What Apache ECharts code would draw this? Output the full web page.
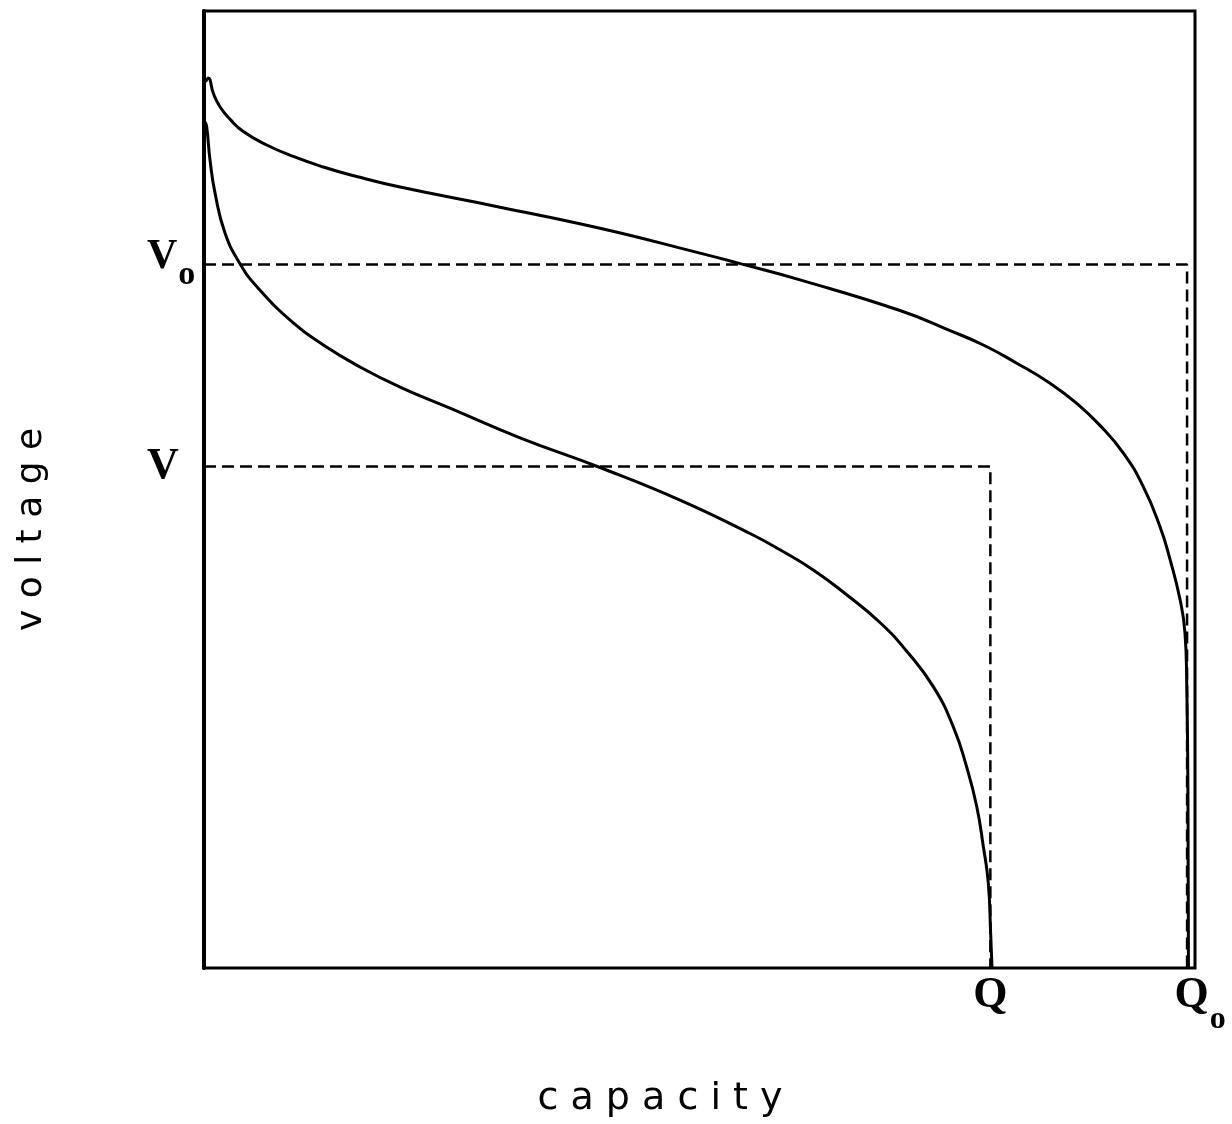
<!DOCTYPE html>
<html>
<head>
<meta charset="utf-8">
<title>voltage vs capacity</title>
<script src="https://cdn.jsdelivr.net/npm/echarts@6/dist/echarts.min.js"></script>
<style>
  html, body { margin: 0; padding: 0; background: #fff; }
  #chart { width: 1232px; height: 1124px; }
</style>
</head>
<body>
<div id="chart"></div>
<script>
// values, in 0..100 units of the frame
var highRate = [ // upper curve, ends at Qo
  [0.15, 92.6], [0.43, 93.0], [0.94, 91.4], [1.61, 90.0], [2.62, 88.7], [3.97, 87.4],
  [6.33, 86.0], [9.01, 84.8], [12.04, 83.7], [15.41, 82.7], [19.78, 81.6], [29.87, 79.5],
  [39.96, 77.3], [50.05, 74.7], [54.1, 73.6], [60.14, 71.9], [70.23, 68.7], [75.28, 66.6],
  [78.64, 65.1], [82.01, 63.2], [85.37, 61.1], [88.06, 59.0], [90.41, 56.7], [92.77, 53.8],
  [94.78, 50.3], [96.47, 46.1], [97.48, 42.7], [98.49, 38.5], [98.99, 35.0], [99.16, 30.1],
  [99.29, 17.6], [99.34, 0]
];
var lowRate = [ // lower curve, ends at Q
  [0.1, 88.4], [0.27, 87.9], [0.61, 84.4], [1.11, 81.0], [2.12, 76.8], [3.63, 73.6],
  [5.32, 71.2], [9.01, 67.4], [12.04, 65.1], [15.74, 62.8], [19.78, 60.7], [24.82, 58.5],
  [31.89, 55.4], [39.96, 52.3], [48.03, 48.9], [55.1, 45.4], [58.12, 43.7], [61.48, 41.6],
  [64.85, 39.0], [68.21, 36.1], [70.91, 33.1], [73.59, 29.4], [75.61, 25.2], [76.96, 21.0],
  [77.97, 16.9], [78.64, 12.7], [79.14, 8.9], [79.38, 3.6], [79.52, 0]
];
var voltTicks = [52.4, 73.5];      // V, Vo
var voltNames = ['{b|V}', '{bs|V}{sv|o}'];
var capTicks = [79.35, 99.2];      // Q, Qo
var capNames = ['{b|Q}', '{bq|Q}{sq|o}'];

var serifBold = { fontFamily: 'Liberation Serif', fontWeight: 'bold', color: '#000' };
var labelRich = {
  b: Object.assign({ fontSize: 44 }, serifBold),
  bs: Object.assign({ fontSize: 42, padding: [0, 0, 14, 0] }, serifBold),
  sv: Object.assign({ fontSize: 34, padding: [22, 0, 0, 1] }, serifBold),
  bq: Object.assign({ fontSize: 44, padding: [0, 0, 26, 26] }, serifBold),
  sq: Object.assign({ fontSize: 32, padding: [22, 0, 0, 1] }, serifBold)
};

var chart = echarts.init(document.getElementById('chart'));
var option = {
  animation: false,
  grid: {
    left: 204, top: 11, width: 991, height: 957,
    show: true, borderColor: '#000', borderWidth: 3, backgroundColor: 'transparent'
  },
  xAxis: {
    type: 'value', min: 0, max: 100,
    name: 'c a p a c i t y',
    nameLocation: 'middle', nameGap: 112,
    nameTextStyle: { fontFamily: 'DejaVu Sans', fontSize: 38, color: '#000', padding: [0, 79, 0, 0] },
    axisLine: { show: false },
    splitLine: { show: false },
    axisTick: { show: false },
    axisLabel: {
      customValues: capTicks,
      margin: 6,
      formatter: function (v) { return capNames[capTicks.indexOf(v)]; },
      rich: labelRich
    }
  },
  yAxis: {
    type: 'value', min: 0, max: 100,
    name: 'v o l t a g e',
    nameLocation: 'middle', nameGap: 154, nameRotate: 90,
    nameTextStyle: { fontFamily: 'DejaVu Sans', fontSize: 36, color: '#000', padding: [0, 80, 0, 0] },
    axisLine: { show: true, lineStyle: { color: '#000', width: 4 } },
    splitLine: { show: false },
    axisTick: { show: false },
    axisLabel: {
      customValues: voltTicks,
      margin: 57,
      align: 'left',
      formatter: function (v) { return voltNames[voltTicks.indexOf(v)]; },
      rich: labelRich
    }
  },
  series: [
    {
      type: 'line', data: highRate, smooth: 0.5, showSymbol: false, silent: true,
      lineStyle: { color: '#000', width: 3 }
    },
    {
      type: 'line', data: lowRate, smooth: 0.5, showSymbol: false, silent: true,
      lineStyle: { color: '#000', width: 3 }
    },
    {
      type: 'line', showSymbol: false, silent: true,
      data: [[0, voltTicks[1]], [capTicks[1], voltTicks[1]], [capTicks[1], 0]],
      lineStyle: { color: '#000', width: 2.5, type: [12, 6] }
    },
    {
      type: 'line', showSymbol: false, silent: true,
      data: [[0, voltTicks[0]], [capTicks[0], voltTicks[0]], [capTicks[0], 0]],
      lineStyle: { color: '#000', width: 2.5, type: [12, 6] }
    }
  ]
};
chart.setOption(option);
</script>
</body>
</html>
